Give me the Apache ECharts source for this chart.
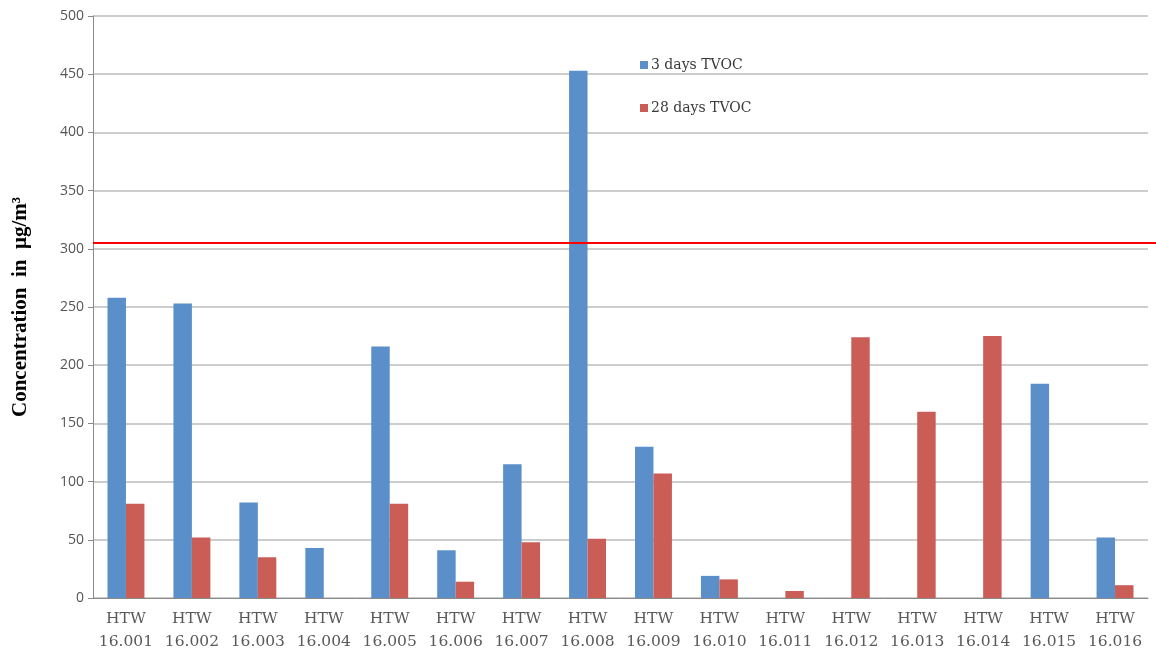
<!DOCTYPE html>
<html><head><meta charset="utf-8">
<script src="https://cdn.jsdelivr.net/npm/echarts@6/dist/echarts.min.js"></script>
<style>html,body{margin:0;padding:0;background:#fff}#c{width:1156px;height:652px}</style>
</head><body><div id="c"></div>
<script>
const categories = ['HTW\n16.001','HTW\n16.002','HTW\n16.003','HTW\n16.004','HTW\n16.005','HTW\n16.006','HTW\n16.007','HTW\n16.008','HTW\n16.009','HTW\n16.010','HTW\n16.011','HTW\n16.012','HTW\n16.013','HTW\n16.014','HTW\n16.015','HTW\n16.016'];
const days3 = [258, 253, 82, 43, 216, 41, 115, 453, 130, 19, null, null, null, null, 184, 52];
const days28 = [81, 52, 35, null, 81, 14, 48, 51, 107, 16, 6, 224, 160, 225, null, 11];
const limitValue = 305;
const yTicks = {min: 0, max: 500, interval: 50};

const chart = echarts.init(document.getElementById('c'));
chart.setOption({
  animation: false,
  grid: {left: 93, right: 8, top: 16, bottom: 54, outerBoundsMode: 'none', containLabel: false},
  legend: {
    orient: 'vertical', left: 635, top: 53, itemWidth: 8, itemHeight: 8, itemGap: 29,
    icon: 'rect',
    textStyle: {fontFamily: 'DejaVu Serif', fontSize: 14, color: '#3a3a3a', padding: [0, 0, 0, -2]},
    data: ['3 days TVOC', '28 days TVOC']
  },
  xAxis: {
    type: 'category', data: categories,
    axisLine: {lineStyle: {color: '#8a8a8a'}},
    axisTick: {length: 6, lineStyle: {color: '#8a8a8a'}},
    axisLabel: {fontFamily: 'DejaVu Serif', fontSize: 15.5, color: '#595959', lineHeight: 23, margin: 9, interval: 0}
  },
  yAxis: {
    type: 'value', min: yTicks.min, max: yTicks.max, interval: yTicks.interval,
    name: 'Concentration  in  μg/m³', nameLocation: 'middle', nameGap: 62,
    nameTextStyle: {fontFamily: 'Liberation Serif', fontWeight: 'bold', fontSize: 21, color: '#000'},
    axisLine: {show: true, lineStyle: {color: '#8a8a8a'}},
    axisTick: {show: true, length: 5, lineStyle: {color: '#8a8a8a'}},
    axisLabel: {fontFamily: 'Open Sans', fontSize: 14, color: '#555', margin: 9},
    splitLine: {lineStyle: {color: '#bdbdbd', width: 1.5}}
  },
  series: [
    {name: '3 days TVOC', type: 'bar', data: days3, barGap: '0%', barCategoryGap: '44%',
     itemStyle: {color: '#5b8fca'}},
    {name: '28 days TVOC', type: 'bar', data: days28, barGap: '0%', barCategoryGap: '44%',
     itemStyle: {color: '#cb5d57'}}
  ]
});
// red limit line: y position taken from the value axis scale, extended to the right page edge
const yPx = chart.convertToPixel({yAxisIndex: 0}, limitValue);
const x0 = chart.convertToPixel({gridIndex: 0}, [0, 0]);
chart.setOption({
  series: [{name: '3 days TVOC',
    markLine: {silent: true, symbol: 'none', label: {show: false}, z: 10,
      lineStyle: {color: '#ff0000', width: 2, type: 'solid'},
      data: [[{x: 93, y: yPx}, {x: 1156, y: yPx}]]}}]
});
</script></body></html>
